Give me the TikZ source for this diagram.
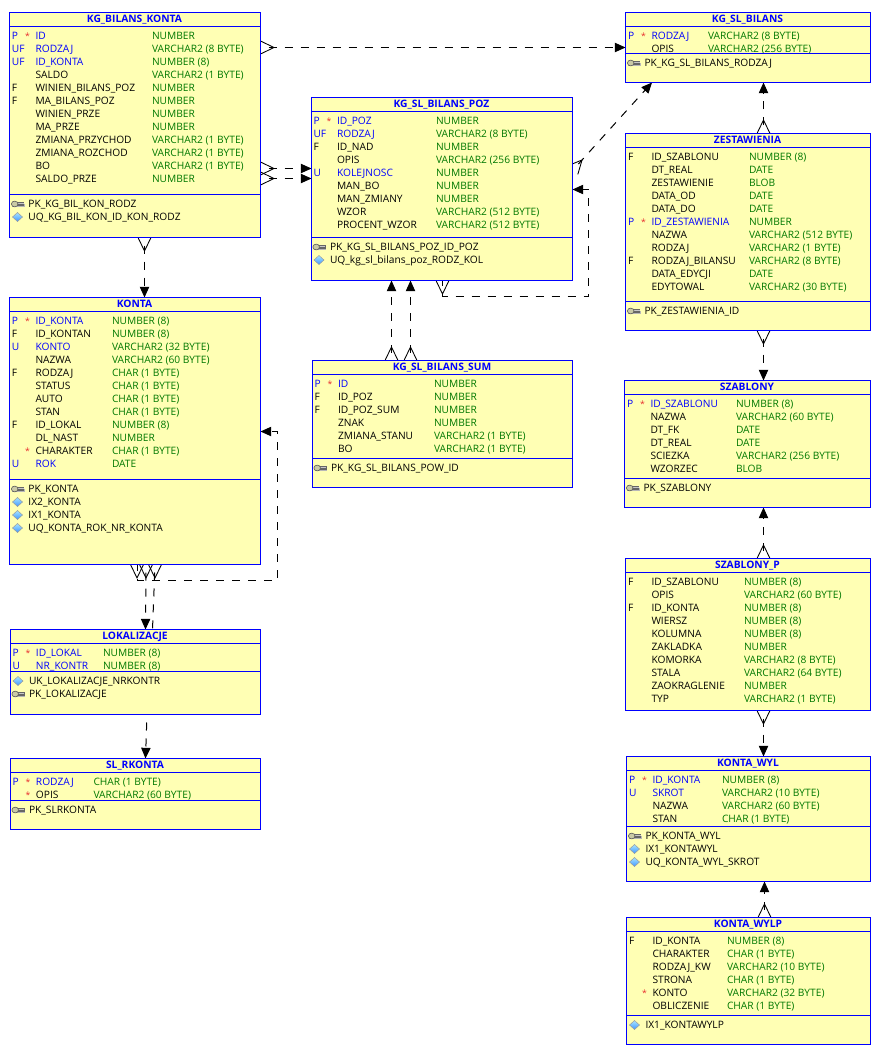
\documentclass[tikz,border=0pt]{standalone}
\usepackage{fontspec}
\setmainfont{Open Sans}
\usetikzlibrary{arrows.meta,backgrounds,shapes.geometric}
\catcode`\_=12
\definecolor{tblfill}{HTML}{FFFFB4}
\definecolor{tblblue}{HTML}{0000FF}
\definecolor{typegreen}{HTML}{007800}
\definecolor{starred}{HTML}{E83030}
\definecolor{keyhead}{HTML}{C9C9A6}
\newcount\rowy
\newcount\rowno
\tikzset{
  x=0.75pt,y=-0.75pt,
  tblbox/.style={draw=tblblue,fill=tblfill,line width=0.75pt,inner sep=0pt,outer sep=0pt},
  sepline/.style={draw=tblblue,line width=0.75pt},
  cell/.style={inner sep=0pt,outer sep=0pt,anchor=base west,font=\fontsize{7.65}{8}\selectfont},
  ttl/.style={inner sep=0pt,outer sep=0pt,anchor=base,text=tblblue,font=\fontsize{7.7}{8}\selectfont\bfseries},
  fk/.style={draw=black,line width=0.75pt,dash pattern=on 6pt off 6pt,dash phase=6pt,
    -{Triangle[length=8pt,width=7pt]}},
  fkplain/.style={draw=black,line width=0.75pt,dash pattern=on 6pt off 6pt,dash phase=6pt},
  crowline/.style={draw=black,line width=0.65pt},
  crowfoot/.pic={\draw[crowline] (0,-6.5) -- (13.5,0) -- (0,6.5);},
}
% one table: id, x1, y1, x2, y2, title, column x of flags, column x of types
\newcommand\tbl[8]{%
  \gdef\cur{#1}\gdef\fx{#7}\gdef\tx{#8}%
  \global\rowy=\numexpr#3+23\relax \global\rowno=0
  \node[tblbox,minimum width={(#4-#2)*0.75pt},minimum height={(#5-#3)*0.75pt}] (#1) at ({(#2+#4)/2+0.5},{(#3+#5)/2+0.5}) {};
  \node[ttl] (#1-title) at ({(#2+#4)/2},#3+10.5) {#6};
  \draw[sepline] (#1.west |- 0,#3+14.5) -- (#1.east |- 0,#3+14.5);
}
\newcommand\cellrow[5]{%
  \global\advance\rowno by 1
  \node[cell,text=#1] (\cur-f\the\rowno) at (\fx,\the\rowy+4.2) {#2};
  \node[cell,text=starred,font=\fontsize{6.5}{8}\selectfont] (\cur-s\the\rowno) at (\fx+13,\the\rowy+4.2) {#3};
  \node[cell,text=#1] (\cur-n\the\rowno) at (\fx+23.5,\the\rowy+4.2) {#4};
  \node[cell,text=typegreen] (\cur-t\the\rowno) at (\tx,\the\rowy+4.2) {#5};
  \global\advance\rowy by 13
}
\newcommand\kr[4]{\cellrow{tblblue}{#1}{#2}{#3}{#4}}% key column, set in blue
\newcommand\nr[4]{\cellrow{black}{#1}{#2}{#3}{#4}}% ordinary column
\newcommand\sep[1]{%
  \draw[sepline] (\cur.west |- 0,#1+0.5) -- (\cur.east |- 0,#1+0.5);
  \global\rowy=\numexpr#1+9\relax
}
% constraint with a key icon
\newcommand\ck[1]{%
  \global\advance\rowno by 1
  \begin{scope}[shift={(\fx+5.5,\the\rowy+1)}]
    \fill[black!28] (-5.5,0) rectangle (7,3.4);
    \fill[black!60] (-1,-1.8) rectangle (6.5,2);
    \fill[black!22] (0,-0.9) rectangle (6,0.1);
    \draw[black!65,fill=keyhead,line width=0.45pt] (-2.8,0) ellipse (3.3 and 2.9);
  \end{scope}
  \node[cell] (\cur-c\the\rowno) at (\fx+16.5,\the\rowy+4.2) {#1};
  \global\advance\rowy by 13
}
% constraint with a diamond icon
\newcommand\cd[1]{%
  \global\advance\rowno by 1
  \begin{scope}[shift={(\fx+5.5,\the\rowy+1)}]
    \shade[top color=blue!30!cyan!35!white,bottom color=blue!55!cyan!75!white,draw=black!40,line width=0.35pt]
      (-5,0) -- (0,-4.5) -- (5,0) -- (0,4.5) -- cycle;
  \end{scope}
  \node[cell] (\cur-c\the\rowno) at (\fx+16.5,\the\rowy+4.2) {#1};
  \global\advance\rowy by 13
}
\pgfdeclarelayer{links}
\pgfsetlayers{links,main}
\begin{document}
\begin{tikzpicture}
\useasboundingbox (0,0) rectangle (871,1045);

\tbl{kbk}{9}{12}{260}{237}{KG_BILANS_KONTA}{12}{152}
\kr{P}{*}{ID}{NUMBER}
\kr{UF}{}{RODZAJ}{VARCHAR2 (8 BYTE)}
\kr{UF}{}{ID_KONTA}{NUMBER (8)}
\nr{}{}{SALDO}{VARCHAR2 (1 BYTE)}
\nr{F}{}{WINIEN_BILANS_POZ}{NUMBER}
\nr{F}{}{MA_BILANS_POZ}{NUMBER}
\nr{}{}{WINIEN_PRZE}{NUMBER}
\nr{}{}{MA_PRZE}{NUMBER}
\nr{}{}{ZMIANA_PRZYCHOD}{VARCHAR2 (1 BYTE)}
\nr{}{}{ZMIANA_ROZCHOD}{VARCHAR2 (1 BYTE)}
\nr{}{}{BO}{VARCHAR2 (1 BYTE)}
\nr{}{}{SALDO_PRZE}{NUMBER}
\sep{194}
\ck{PK_KG_BIL_KON_RODZ}
\cd{UQ_KG_BIL_KON_ID_KON_RODZ}

\tbl{poz}{311}{97}{572}{280}{KG_SL_BILANS_POZ}{313.5}{436}
\kr{P}{*}{ID_POZ}{NUMBER}
\kr{UF}{}{RODZAJ}{VARCHAR2 (8 BYTE)}
\nr{F}{}{ID_NAD}{NUMBER}
\nr{}{}{OPIS}{VARCHAR2 (256 BYTE)}
\kr{U}{}{KOLEJNOSC}{NUMBER}
\nr{}{}{MAN_BO}{NUMBER}
\nr{}{}{MAN_ZMIANY}{NUMBER}
\nr{}{}{WZOR}{VARCHAR2 (512 BYTE)}
\nr{}{}{PROCENT_WZOR}{VARCHAR2 (512 BYTE)}
\sep{237}
\ck{PK_KG_SL_BILANS_POZ_ID_POZ}
\cd{UQ_kg_sl_bilans_poz_RODZ_KOL}

\tbl{sum}{312}{360}{572}{487}{KG_SL_BILANS_SUM}{314.5}{434}
\kr{P}{*}{ID}{NUMBER}
\nr{F}{}{ID_POZ}{NUMBER}
\nr{F}{}{ID_POZ_SUM}{NUMBER}
\nr{}{}{ZNAK}{NUMBER}
\nr{}{}{ZMIANA_STANU}{VARCHAR2 (1 BYTE)}
\nr{}{}{BO}{VARCHAR2 (1 BYTE)}
\sep{458}
\ck{PK_KG_SL_BILANS_POW_ID}

\tbl{ksb}{625}{12}{870}{82}{KG_SL_BILANS}{628}{708}
\kr{P}{*}{RODZAJ}{VARCHAR2 (8 BYTE)}
\nr{}{}{OPIS}{VARCHAR2 (256 BYTE)}
\sep{53}
\ck{PK_KG_SL_BILANS_RODZAJ}

\tbl{zes}{625}{133}{870}{330}{ZESTAWIENIA}{628}{749}
\nr{F}{}{ID_SZABLONU}{NUMBER (8)}
\nr{}{}{DT_REAL}{DATE}
\nr{}{}{ZESTAWIENIE}{BLOB}
\nr{}{}{DATA_OD}{DATE}
\nr{}{}{DATA_DO}{DATE}
\kr{P}{*}{ID_ZESTAWIENIA}{NUMBER}
\nr{}{}{NAZWA}{VARCHAR2 (512 BYTE)}
\nr{}{}{RODZAJ}{VARCHAR2 (1 BYTE)}
\nr{F}{}{RODZAJ_BILANSU}{VARCHAR2 (8 BYTE)}
\nr{}{}{DATA_EDYCJI}{DATE}
\nr{}{}{EDYTOWAL}{VARCHAR2 (30 BYTE)}
\sep{301}
\ck{PK_ZESTAWIENIA_ID}

\tbl{sza}{624}{380}{870}{507}{SZABLONY}{627}{736}
\kr{P}{*}{ID_SZABLONU}{NUMBER (8)}
\nr{}{}{NAZWA}{VARCHAR2 (60 BYTE)}
\nr{}{}{DT_FK}{DATE}
\nr{}{}{DT_REAL}{DATE}
\nr{}{}{SCIEZKA}{VARCHAR2 (256 BYTE)}
\nr{}{}{WZORZEC}{BLOB}
\sep{478}
\ck{PK_SZABLONY}

\tbl{szp}{625}{558}{870}{710}{SZABLONY_P}{628}{744}
\nr{F}{}{ID_SZABLONU}{NUMBER (8)}
\nr{}{}{OPIS}{VARCHAR2 (60 BYTE)}
\nr{F}{}{ID_KONTA}{NUMBER (8)}
\nr{}{}{WIERSZ}{NUMBER (8)}
\nr{}{}{KOLUMNA}{NUMBER (8)}
\nr{}{}{ZAKLADKA}{NUMBER}
\nr{}{}{KOMORKA}{VARCHAR2 (8 BYTE)}
\nr{}{}{STALA}{VARCHAR2 (64 BYTE)}
\nr{}{}{ZAOKRAGLENIE}{NUMBER}
\nr{}{}{TYP}{VARCHAR2 (1 BYTE)}

\tbl{wyl}{626}{756}{870}{881}{KONTA_WYL}{629}{722}
\kr{P}{*}{ID_KONTA}{NUMBER (8)}
\kr{U}{}{SKROT}{VARCHAR2 (10 BYTE)}
\nr{}{}{NAZWA}{VARCHAR2 (60 BYTE)}
\nr{}{}{STAN}{CHAR (1 BYTE)}
\sep{826}
\ck{PK_KONTA_WYL}
\cd{IX1_KONTAWYL}
\cd{UQ_KONTA_WYL_SKROT}

\tbl{wlp}{626}{917}{870}{1044}{KONTA_WYLP}{629}{727}
\nr{F}{}{ID_KONTA}{NUMBER (8)}
\nr{}{}{CHARAKTER}{CHAR (1 BYTE)}
\nr{}{}{RODZAJ_KW}{VARCHAR2 (10 BYTE)}
\nr{}{}{STRONA}{CHAR (1 BYTE)}
\nr{}{*}{KONTO}{VARCHAR2 (32 BYTE)}
\nr{}{}{OBLICZENIE}{CHAR (1 BYTE)}
\sep{1015}
\cd{IX1_KONTAWYLP}

\tbl{kon}{9}{297}{260}{564}{KONTA}{12}{112}
\kr{P}{*}{ID_KONTA}{NUMBER (8)}
\nr{F}{}{ID_KONTAN}{NUMBER (8)}
\kr{U}{}{KONTO}{VARCHAR2 (32 BYTE)}
\nr{}{}{NAZWA}{VARCHAR2 (60 BYTE)}
\nr{F}{}{RODZAJ}{CHAR (1 BYTE)}
\nr{}{}{STATUS}{CHAR (1 BYTE)}
\nr{}{}{AUTO}{CHAR (1 BYTE)}
\nr{}{}{STAN}{CHAR (1 BYTE)}
\nr{F}{}{ID_LOKAL}{NUMBER (8)}
\nr{}{}{DL_NAST}{NUMBER}
\nr{}{*}{CHARAKTER}{CHAR (1 BYTE)}
\kr{U}{}{ROK}{DATE}
\sep{479}
\ck{PK_KONTA}
\cd{IX2_KONTA}
\cd{IX1_KONTA}
\cd{UQ_KONTA_ROK_NR_KONTA}

\tbl{lok}{10}{629}{260}{714}{LOKALIZACJE}{12.5}{103}
\kr{P}{*}{ID_LOKAL}{NUMBER (8)}
\kr{U}{}{NR_KONTR}{NUMBER (8)}
\sep{671}
\cd{UK_LOKALIZACJE_NRKONTR}
\ck{PK_LOKALIZACJE}

\tbl{slr}{10}{758}{260}{829}{SL_RKONTA}{12.5}{93.5}
\kr{P}{*}{RODZAJ}{CHAR (1 BYTE)}
\nr{}{*}{OPIS}{VARCHAR2 (60 BYTE)}
\sep{800}
\ck{PK_SLRKONTA}

% relationships, underneath the tables
\begin{pgfonlayer}{links}
  \coordinate (pozdiag) at (573,170);
  \draw[fk] (kbk.east |- 0,47.5) -- (ksb.west |- 0,47.5);
  \path (kbk.east |- 0,47.5) pic {crowfoot};
  \draw[fk] (kbk.east |- 0,168.5) -- (poz.west |- 0,168.5);
  \path (kbk.east |- 0,168.5) pic {crowfoot};
  \draw[fk] (kbk.east |- 0,178.5) -- (poz.west |- 0,178.5);
  \path (kbk.east |- 0,178.5) pic {crowfoot};
  \draw[fk] (kbk.south -| 144.5,0) -- (kon.north -| 144.5,0);
  \path (kbk.south -| 144.5,0) pic[rotate=-90] {crowfoot};
  \draw[fk] (pozdiag) -- (ksb.south -| 652,0);
  \path (pozdiag) pic[rotate=48] {crowfoot};
  \draw[fk,dash phase=2.25pt] (poz.south -| 442.5,0) -- (442.5,296.5) -- (588.5,296.5) -- (588.5,189.5) -- (poz.east |- 0,189.5);
  \path (poz.south -| 442.5,0) pic[rotate=-90] {crowfoot};
  \draw[fk] (sum.north -| 391.5,0) -- (poz.south -| 391.5,0);
  \path (sum.north -| 391.5,0) pic[rotate=90] {crowfoot};
  \draw[fk] (sum.north -| 410.5,0) -- (poz.south -| 410.5,0);
  \path (sum.north -| 410.5,0) pic[rotate=90] {crowfoot};
  \draw[fk] (zes.north -| 763.5,0) -- (ksb.south -| 763.5,0);
  \path (zes.north -| 763.5,0) pic[rotate=90] {crowfoot};
  \draw[fk] (zes.south -| 763.5,0) -- (sza.north -| 763.5,0);
  \path (zes.south -| 763.5,0) pic[rotate=-90] {crowfoot};
  \draw[fk] (szp.north -| 763.5,0) -- (sza.south -| 763.5,0);
  \path (szp.north -| 763.5,0) pic[rotate=90] {crowfoot};
  \draw[fk] (szp.south -| 763.5,0) -- (wyl.north -| 763.5,0);
  \path (szp.south -| 763.5,0) pic[rotate=-90] {crowfoot};
  \draw[fk] (wlp.north -| 764.5,0) -- (wyl.south -| 764.5,0);
  \path (wlp.north -| 764.5,0) pic[rotate=90] {crowfoot};
  \draw[fk] (kon.south -| 146,0) -- (lok.north -| 145.5,0);
  \path (kon.south -| 137,0) pic[rotate=-90] {crowfoot};
  \path (kon.south -| 146,0) pic[rotate=-90] {crowfoot};
  \path (kon.south -| 155,0) pic[rotate=-90] {crowfoot};
  \draw[fkplain] (kon.south -| 155,0) -- (lok.north -| 152.5,0);
  \draw[fk,dash phase=1pt] (kon.south -| 137.5,0) -- (137.5,580.5) -- (277.5,580.5) -- (277.5,431.5) -- (kon.east |- 0,431.5);
  \draw[fk] (lok.south -| 147,0) -- (slr.north -| 145.5,0);
\end{pgfonlayer}
\end{tikzpicture}
\end{document}
